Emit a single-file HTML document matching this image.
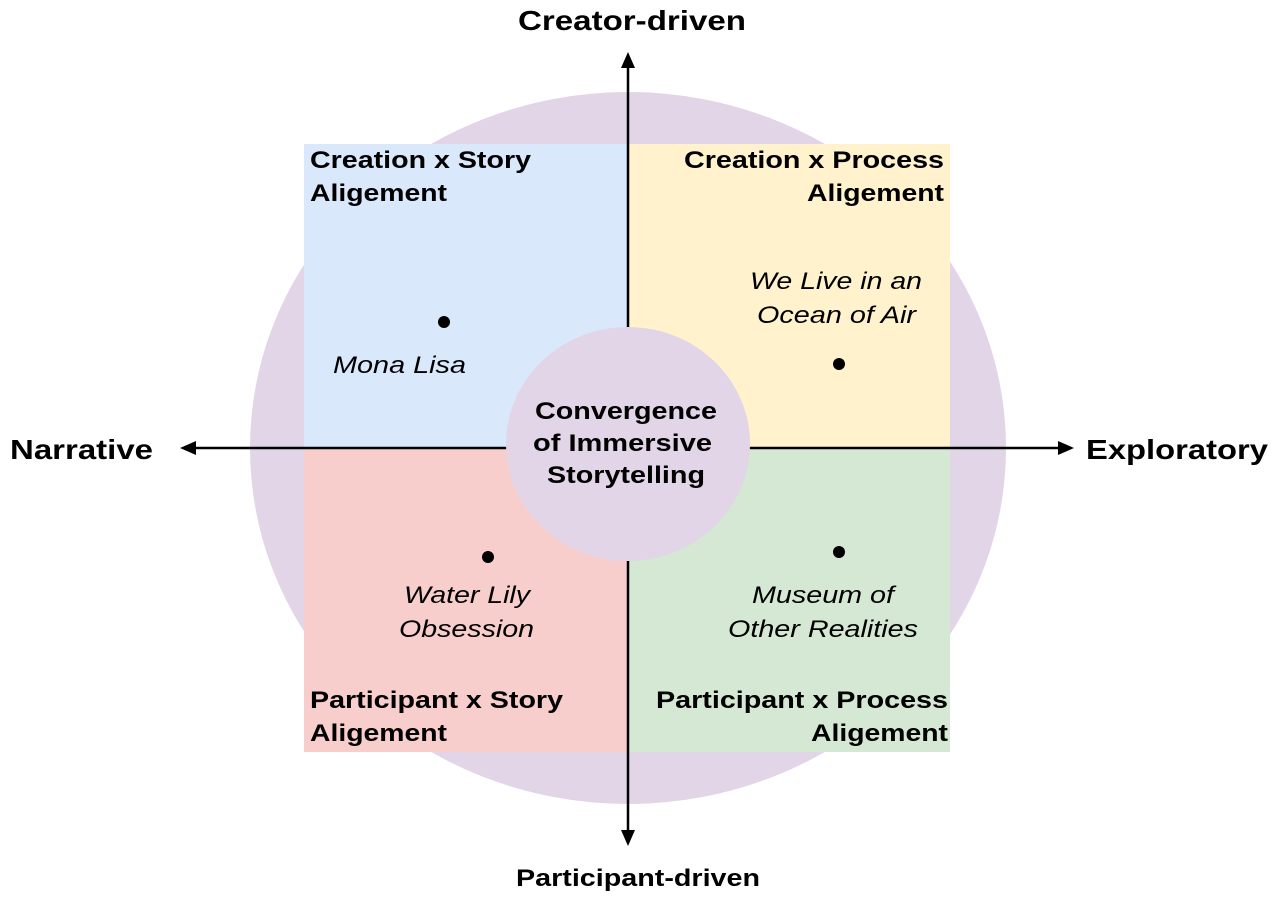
<!DOCTYPE html>
<html><head><meta charset="utf-8"><style>
body{margin:0;background:#fff;}
svg text{font-family:"Liberation Sans",Arial,sans-serif;fill:#000;}
</style></head><body>
<svg width="1282" height="898" viewBox="0 0 1282 898" xmlns="http://www.w3.org/2000/svg">
<ellipse cx="628" cy="448" rx="378" ry="356" fill="#e1d5e7"/>
<rect x="304" y="144" width="324" height="304" fill="#dae8fc"/>
<rect x="628" y="144" width="322" height="304" fill="#fff2cc"/>
<rect x="304" y="448" width="324" height="304" fill="#f8cecc"/>
<rect x="628" y="448" width="322" height="304" fill="#d5e8d4"/>
<g stroke="#000" stroke-width="2.5" fill="none">
<line x1="628" y1="62" x2="628" y2="836"/>
<line x1="190" y1="448" x2="1064" y2="448"/>
</g>
<g fill="#000">
<polygon points="628,52 621,68 635,68"/>
<polygon points="628,846 621,830 635,830"/>
<polygon points="180,448 196,441 196,455"/>
<polygon points="1074,448 1058,441 1058,455"/>
<circle cx="444" cy="322" r="6"/>
<circle cx="839" cy="364" r="6"/>
<circle cx="488" cy="557" r="6"/>
<circle cx="839" cy="552" r="6"/>
</g>
<ellipse cx="628" cy="444" rx="122" ry="117" fill="#e1d5e7"/>
<g font-weight="bold" font-size="24">
<text x="535" y="419" textLength="182" lengthAdjust="spacingAndGlyphs">Convergence</text>
<text x="533" y="451" textLength="179" lengthAdjust="spacingAndGlyphs">of Immersive</text>
<text x="547" y="483" textLength="158" lengthAdjust="spacingAndGlyphs">Storytelling</text>
<text x="310" y="168" textLength="221" lengthAdjust="spacingAndGlyphs">Creation x Story</text>
<text x="310" y="201" textLength="137" lengthAdjust="spacingAndGlyphs">Aligement</text>
<text x="684" y="168" textLength="260" lengthAdjust="spacingAndGlyphs">Creation x Process</text>
<text x="807" y="201" textLength="137" lengthAdjust="spacingAndGlyphs">Aligement</text>
<text x="310" y="708" textLength="253" lengthAdjust="spacingAndGlyphs">Participant x Story</text>
<text x="310" y="741" textLength="137" lengthAdjust="spacingAndGlyphs">Aligement</text>
<text x="656" y="708" textLength="292" lengthAdjust="spacingAndGlyphs">Participant x Process</text>
<text x="811" y="741" textLength="137" lengthAdjust="spacingAndGlyphs">Aligement</text>
<text x="518" y="30" font-size="28" textLength="228" lengthAdjust="spacingAndGlyphs">Creator-driven</text>
<text x="516" y="886" textLength="244" lengthAdjust="spacingAndGlyphs">Participant-driven</text>
<text x="10" y="459" font-size="28" textLength="143" lengthAdjust="spacingAndGlyphs">Narrative</text>
<text x="1086" y="459" font-size="28" textLength="182" lengthAdjust="spacingAndGlyphs">Exploratory</text>
</g>
<g font-style="italic" font-size="24">
<text x="333" y="373" textLength="133" lengthAdjust="spacingAndGlyphs">Mona Lisa</text>
<text x="750" y="289" textLength="172" lengthAdjust="spacingAndGlyphs">We Live in an</text>
<text x="757" y="323" textLength="159" lengthAdjust="spacingAndGlyphs">Ocean of Air</text>
<text x="404" y="603" textLength="126" lengthAdjust="spacingAndGlyphs">Water Lily</text>
<text x="399" y="637" textLength="135" lengthAdjust="spacingAndGlyphs">Obsession</text>
<text x="752" y="603" textLength="142" lengthAdjust="spacingAndGlyphs">Museum of</text>
<text x="728" y="637" textLength="190" lengthAdjust="spacingAndGlyphs">Other Realities</text>
</g>
</svg>
</body></html>
